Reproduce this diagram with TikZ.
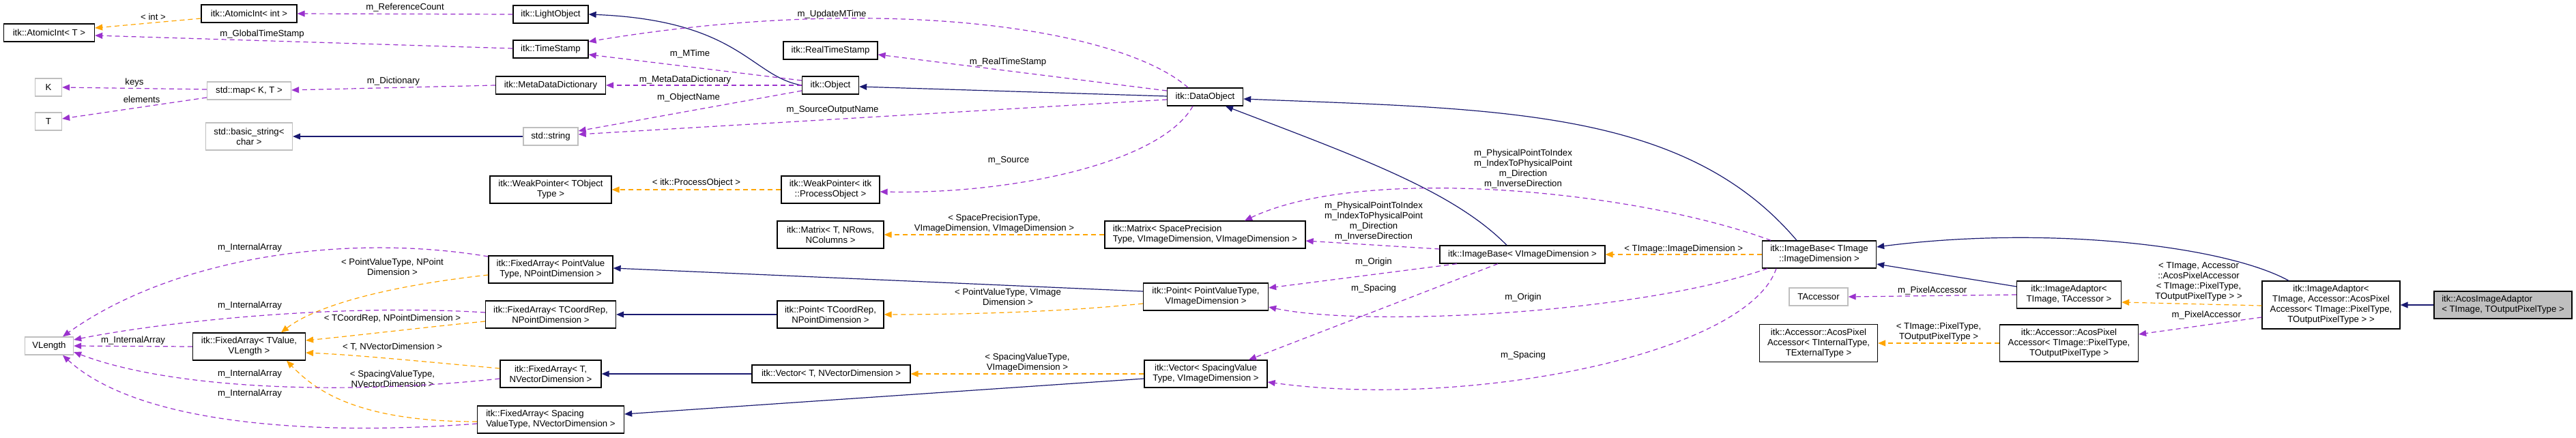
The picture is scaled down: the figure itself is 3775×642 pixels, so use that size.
\documentclass[tikz,border=0pt]{standalone}
\usepackage{fontspec}
\setmainfont{Liberation Sans}
\usetikzlibrary{arrows.meta,calc}
\definecolor{inhc}{HTML}{191970}
\definecolor{usec}{HTML}{9A32CD}
\definecolor{tplc}{HTML}{FFA500}
\begin{document}
\begin{tikzpicture}[x=1pt,y=-1pt,
  box/.style={draw=black,line width=1.3pt,fill=white,align=center,inner sep=2pt,font=\fontsize{13.2}{15}\selectfont},
  gbox/.style={box,draw=black!25},
  inh/.style={draw=inhc,line width=1.2pt,-{Triangle[length=11pt,width=9pt]}},
  use/.style={draw=usec,line width=1.2pt,dash pattern=on 7pt off 5pt,-{Triangle[length=11pt,width=9pt]}},
  tpl/.style={draw=tplc,line width=1.2pt,dash pattern=on 7pt off 5pt,-{Triangle[length=11pt,width=9pt]}},
  lab/.style={align=center,inner sep=0pt,font=\fontsize{13.2}{15}\selectfont}]
\useasboundingbox (0,0) rectangle (3775,642);
\fill[white] (0,0) rectangle (3775,642);
% nodes
\node[box,minimum width=133,minimum height=26] (aiT) at (72,48) {itk::AtomicInt< T >};
\node[box,minimum width=140,minimum height=26] (aiI) at (365,20) {itk::AtomicInt< int >};
\node[box,minimum width=110,minimum height=26] (light) at (807,21) {itk::LightObject};
\node[box,minimum width=110,minimum height=26] (ts) at (807,72) {itk::TimeStamp};
\node[gbox,minimum width=39,minimum height=26] (K) at (71,128) {K};
\node[gbox,minimum width=39,minimum height=26] (T) at (71,178) {T};
\node[gbox,minimum width=123,minimum height=26] (map) at (365,133) {std::map< K, T >};
\node[box,minimum width=161,minimum height=26] (mdd) at (807,125) {itk::MetaDataDictionary};
\node[gbox,minimum width=127,minimum height=40] (bstr) at (365,200) {std::basic\_string<\\char >};
\node[gbox,minimum width=80,minimum height=26] (str) at (807,200) {std::string};
\node[box,minimum width=178,minimum height=40] (wpT) at (807,278) {itk::WeakPointer< TObject\\Type >};
\node[box,minimum width=138,minimum height=26] (rts) at (1217,74) {itk::RealTimeStamp};
\node[box,minimum width=83,minimum height=26] (obj) at (1217,125) {itk::Object};
\node[box,minimum width=111,minimum height=26] (dobj) at (1766,142) {itk::DataObject};
\node[box,minimum width=144,minimum height=40] (wpP) at (1217,278) {itk::WeakPointer< itk\\::ProcessObject >};
\node[gbox,minimum width=71,minimum height=26] (vlen) at (72,507) {VLength};
\node[box,minimum width=165,minimum height=40] (faV) at (365,508) {itk::FixedArray< TValue,\\VLength >};
\node[box,minimum width=182,minimum height=40] (faP) at (807,395) {itk::FixedArray< PointValue\\Type, NPointDimension >};
\node[box,minimum width=191,minimum height=40] (faC) at (807,461) {itk::FixedArray< TCoordRep,\\NPointDimension >};
\node[box,minimum width=148,minimum height=40] (faT) at (807,548) {itk::FixedArray< T,\\NVectorDimension >};
\node[box,minimum width=215,minimum height=40,align=left] (faS) at (807,615) {itk::FixedArray< Spacing\\ValueType, NVectorDimension >};
\node[box,minimum width=156,minimum height=40] (mT) at (1217,344) {itk::Matrix< T, NRows,\\NColumns >};
\node[box,minimum width=294,minimum height=40,align=left] (mS) at (1766,344) {itk::Matrix< SpacePrecision\\Type, VImageDimension, VImageDimension >};
\node[box,minimum width=183,minimum height=40] (pP) at (1767,435) {itk::Point< PointValueType,\\VImageDimension >};
\node[box,minimum width=156,minimum height=40] (pC) at (1217,461) {itk::Point< TCoordRep,\\NPointDimension >};
\node[box,minimum width=232,minimum height=26] (vT) at (1218,548) {itk::Vector< T, NVectorDimension >};
\node[box,minimum width=180,minimum height=40] (vS) at (1767,548) {itk::Vector< SpacingValue\\Type, VImageDimension >};
\node[box,minimum width=242,minimum height=26] (ibV) at (2231,373) {itk::ImageBase< VImageDimension >};
\node[box,minimum width=167,minimum height=40] (ibT) at (2666,373) {itk::ImageBase< TImage\\::ImageDimension >};
\node[gbox,minimum width=86,minimum height=26] (tacc) at (2665,435) {TAccessor};
\node[box,minimum width=173,minimum height=55] (accI) at (2665,503) {itk::Accessor::AcosPixel\\Accessor< TInternalType,\\TExternalType >};
\node[box,minimum width=153,minimum height=40] (iaT) at (3032,432) {itk::ImageAdaptor<\\TImage, TAccessor >};
\node[box,minimum width=203,minimum height=54] (accP) at (3032,503) {itk::Accessor::AcosPixel\\Accessor< TImage::PixelType,\\TOutputPixelType >};
\node[box,minimum width=202,minimum height=70] (iaB) at (3416,447) {itk::ImageAdaptor<\\TImage, Accessor::AcosPixel\\Accessor< TImage::PixelType,\\TOutputPixelType > >};
\node[box,fill=black!25,minimum width=202,minimum height=40,align=left] (acos) at (3668,447) {itk::AcosImageAdaptor\\< TImage, TOutputPixelType >};
% inheritance
\draw[inh] (obj.west) .. controls (1100,112) and (1085,30) .. (light.east);
\draw[inh] ($(dobj.west)+(0,-1)$) -- ($(obj.east)+(0,2)$);
\draw[inh] (str.west) -- (bstr.east);
\draw[inh] ($(ibV.north)+(-23,0)$) .. controls (2130,280) and (1990,230) .. ($(dobj.south)+(30,0)$);
\draw[inh] ($(ibT.north)+(-33,0)$) .. controls (2470,160) and (2200,160) .. ($(dobj.east)+(0,3)$);
\draw[inh] ($(pP.west)+(0,-8)$) -- ($(faP.east)+(0,-2)$);
\draw[inh] (pC.west) -- (faC.east);
\draw[inh] (vT.west) -- (faT.east);
\draw[inh] ($(vS.west)+(0,7)$) -- ($(faS.east)+(0,-8)$);
\draw[inh] ($(iaT.west)+(0,-12)$) -- ($(ibT.east)+(0,14)$);
\draw[inh] ($(iaB.north)+(-62,0)$) .. controls (3260,360) and (3000,330) .. ($(ibT.east)+(0,-11)$);
\draw[inh] (acos.west) -- (iaB.east);
% templates
\draw[tpl] ($(aiI.west)+(0,7)$) -- ($(aiT.east)+(0,-7)$) node[lab,pos=0.45,above=3pt] {< int >};
\draw[tpl] (wpP.west) -- (wpT.east) node[lab,midway,above=3pt] {< itk::ProcessObject >};
\draw[tpl] ($(faP.west)+(0,8)$) .. controls (560,420) and (460,450) .. ($(faV.north)+(47,0)$);
\node[lab] (l1) at (575,391) {< PointValueType, NPoint\\Dimension >};
\draw[tpl] ($(faC.west)+(0,10)$) .. controls (620,480) and (520,492) .. ($(faV.east)+(0,-9)$);
\node[lab] (l2) at (575,467) {< TCoordRep, NPointDimension >};
\draw[tpl] ($(faT.west)+(0,-8)$) .. controls (620,530) and (520,520) .. ($(faV.east)+(0,9)$);
\node[lab] (l3) at (575,509) {< T, NVectorDimension >};
\draw[tpl] ($(faS.west)+(0,3)$) .. controls (520,618) and (460,570) .. ($(faV.south)+(55,0)$);
\node[lab] (l4) at (575,555) {< SpacingValueType,\\NVectorDimension >};
\draw[tpl] (mS.west) -- (mT.east) node[lab,midway,above=2pt] {< SpacePrecisionType,\\VImageDimension, VImageDimension >};
\draw[tpl] ($(pP.west)+(0,10)$) .. controls (1550,458) and (1400,461) .. (pC.east);
\node[lab] (l5) at (1477,435) {< PointValueType, VImage\\Dimension >};
\draw[tpl] (vS.west) -- (vT.east) node[lab,midway,above=2pt] {< SpacingValueType,\\VImageDimension >};
\draw[tpl] (ibT.west) -- (ibV.east) node[lab,midway,above=1pt] {< TImage::ImageDimension >};
\draw[tpl] (accP.west) -- (accI.east) node[lab,midway,above=2pt] {< TImage::PixelType,\\TOutputPixelType >};
\draw[tpl] ($(iaB.west)+(0,1)$) -- ($(iaT.east)+(0,11)$);
\node[lab] (l6) at (3222,413) {< TImage, Accessor\\::AcosPixelAccessor\\< TImage::PixelType,\\TOutputPixelType > >};
% usage
\draw[use] (light.west) -- (aiI.east) node[lab,midway,above=3pt] {m\_ReferenceCount};
\draw[use] ($(ts.west)+(0,-1)$) -- ($(aiT.east)+(0,4)$) node[lab,pos=0.6,above=3pt] {m\_GlobalTimeStamp};
\draw[use] ($(map.west)+(0,-2)$) -- (K.east) node[lab,midway,above=2pt] {keys};
\draw[use] ($(map.west)+(0,10)$) -- ($(T.east)+(0,-4)$) node[lab,pos=0.45,above=6pt] {elements};
\draw[use] (mdd.west) -- ($(map.east)+(0,-1)$) node[lab,midway,above=3pt] {m\_Dictionary};
\draw[use] ($(dobj.north)+(-25,0)$) .. controls (1640,40) and (1290,-10) .. ($(ts.east)+(0,-11)$);
\node[lab] (l7) at (1219,21) {m\_UpdateMTime};
\draw[use] ($(obj.west)+(0,-7)$) -- ($(ts.east)+(0,8)$);
\node[lab] (l8) at (1011,79) {m\_MTime};
\draw[use] (obj.west) -- (mdd.east);
\node[lab] (l9) at (1004,117) {m\_MetaDataDictionary};
\draw[use] ($(obj.west)+(0,8)$) -- ($(str.east)+(0,-8)$);
\node[lab] (l10) at (1009,143) {m\_ObjectName};
\draw[use] ($(dobj.west)+(0,4)$) -- ($(str.east)+(0,-3)$);
\node[lab] (l11) at (1220,161) {m\_SourceOutputName};
\draw[use] ($(dobj.west)+(0,-9)$) -- ($(rts.east)+(0,6)$) node[lab,pos=0.55,above=6pt] {m\_RealTimeStamp};
\draw[use] ($(dobj.south)+(-18,0)$) .. controls (1700,240) and (1480,285) .. ($(wpP.east)+(0,3)$);
\node[lab] (l12) at (1478,235) {m\_Source};
\draw[use] (faV.west) -- (vlen.east) node[lab,midway,above=2pt] {m\_InternalArray};
\draw[use] ($(faP.west)+(0,-19)$) .. controls (500,340) and (250,380) .. ($(vlen.north)+(20,0)$);
\node[lab] (l13) at (366,363) {m\_InternalArray};
\draw[use] ($(faC.west)+(0,-3)$) .. controls (500,445) and (250,470) .. ($(vlen.east)+(0,-9)$);
\node[lab] (l14) at (366,448) {m\_InternalArray};
\draw[use] ($(faT.west)+(0,7)$) .. controls (500,580) and (250,570) .. ($(vlen.east)+(0,9)$);
\node[lab] (l15) at (366,548) {m\_InternalArray};
\draw[use] ($(faS.west)+(0,6)$) .. controls (450,640) and (200,620) .. ($(vlen.south)+(20,0)$);
\node[lab] (l16) at (366,577) {m\_InternalArray};
\draw[use] ($(ibV.west)+(0,-8)$) -- ($(mS.east)+(0,9)$);
\node[lab] (l17) at (2013,325) {m\_PhysicalPointToIndex\\m\_IndexToPhysicalPoint\\m\_Direction\\m\_InverseDirection};
\draw[use] ($(ibT.north)+(-71,0)$) .. controls (2400,280) and (2000,240) .. ($(mS.north)+(58,0)$);
\node[lab] (l18) at (2232,248) {m\_PhysicalPointToIndex\\m\_IndexToPhysicalPoint\\m\_Direction\\m\_InverseDirection};
\draw[use] ($(ibV.south)+(-96,0)$) -- ($(pP.east)+(0,-13)$);
\node[lab] (l19) at (2013,384) {m\_Origin};
\draw[use] ($(ibT.south)+(-76,0)$) .. controls (2400,460) and (2000,480) .. ($(pP.east)+(0,15)$);
\node[lab] (l20) at (2232,436) {m\_Origin};
\draw[use] ($(ibV.south)+(-36,0)$) -- ($(vS.north)+(63,0)$);
\node[lab] (l21) at (2013,423) {m\_Spacing};
\draw[use] ($(ibT.south)+(-63,0)$) .. controls (2560,520) and (2150,600) .. ($(vS.east)+(0,12)$);
\node[lab] (l22) at (2232,521) {m\_Spacing};
\draw[use] (iaT.west) -- (tacc.east) node[lab,midway,above=1pt] {m\_PixelAccessor};
\draw[use] ($(iaB.west)+(0,18)$) -- ($(accP.east)+(0,-13)$) node[lab,pos=0.45,above=8pt] {m\_PixelAccessor};
\end{tikzpicture}
\end{document}
